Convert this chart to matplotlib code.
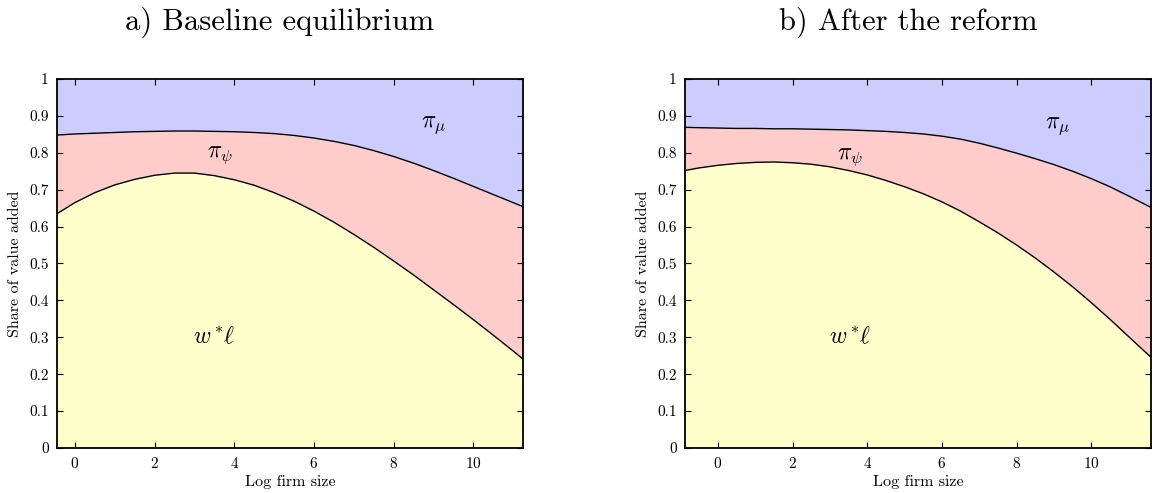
import matplotlib
matplotlib.use("Agg")
import matplotlib.pyplot as plt
import numpy as np

plt.rcParams['font.family'] = 'serif'
plt.rcParams['font.serif'] = ['cmr10']
plt.rcParams['mathtext.fontset'] = 'cm'
plt.rcParams['axes.formatter.use_mathtext'] = True

# a) baseline equilibrium: log firm size grid, wage share and wage+psi share
x_base = [-0.45, 0, 0.5, 1, 1.5, 2, 2.5, 3, 3.5, 4, 4.5, 5, 5.5, 6, 6.5, 7,
          7.5, 8, 8.5, 9, 9.5, 10, 10.5, 11, 11.25]
wage_base = [0.635, 0.665, 0.692, 0.713, 0.728, 0.739, 0.745, 0.745, 0.738,
             0.727, 0.712, 0.692, 0.669, 0.642, 0.612, 0.579, 0.544, 0.507,
             0.469, 0.429, 0.389, 0.348, 0.306, 0.263, 0.241]
psi_base = [0.848, 0.851, 0.853, 0.855, 0.857, 0.858, 0.859, 0.859, 0.858,
            0.857, 0.855, 0.852, 0.847, 0.840, 0.831, 0.820, 0.806, 0.790,
            0.772, 0.752, 0.731, 0.709, 0.687, 0.665, 0.654]

# b) after the reform
x_reform = [-0.88, -0.5, 0, 0.5, 1, 1.5, 2, 2.5, 3, 3.5, 4, 4.5, 5, 5.5, 6,
            6.5, 7, 7.5, 8, 8.5, 9, 9.5, 10, 10.5, 11, 11.6]
wage_reform = [0.752, 0.759, 0.766, 0.771, 0.774, 0.775, 0.773, 0.769, 0.762,
               0.752, 0.740, 0.725, 0.708, 0.689, 0.667, 0.642, 0.613, 0.583,
               0.550, 0.515, 0.477, 0.437, 0.394, 0.349, 0.302, 0.246]
psi_reform = [0.869, 0.868, 0.867, 0.866, 0.866, 0.865, 0.865, 0.864, 0.863,
              0.862, 0.860, 0.858, 0.855, 0.851, 0.845, 0.837, 0.826, 0.813,
              0.799, 0.784, 0.768, 0.750, 0.730, 0.708, 0.683, 0.652]

titles = ['a) Baseline equilibrium', 'b) After the reform']
yticks = [0, 0.1, 0.2, 0.3, 0.4, 0.5, 0.6, 0.7, 0.8, 0.9, 1]
ytick_labels = ['0', '0.1', '0.2', '0.3', '0.4', '0.5', '0.6', '0.7', '0.8', '0.9', '1']
xticks = [0, 2, 4, 6, 8, 10]

c_wage = '#ffffcc'
c_psi = '#ffcccc'
c_mu = '#ccccff'

fig = plt.figure(figsize=(11.52, 4.93), dpi=100)
ax1 = fig.add_axes([0.0495, 0.0913, 0.4045, 0.7485])
ax2 = fig.add_axes([0.5946, 0.0913, 0.4045, 0.7485])

panels = [(ax1, x_base, wage_base, psi_base),
          (ax2, x_reform, wage_reform, psi_reform)]

for ax, x, w, p in panels:
    x = np.asarray(x)
    w = np.asarray(w)
    p = np.asarray(p)
    ax.fill_between(x, 0, w, color=c_wage, lw=0)
    ax.fill_between(x, w, p, color=c_psi, lw=0)
    ax.fill_between(x, p, 1, color=c_mu, lw=0)
    ax.plot(x, w, color='black', lw=1)
    ax.plot(x, p, color='black', lw=1)
    ax.set_xlim(x[0], x[-1])
    ax.set_ylim(0, 1)
    ax.set_xticks(xticks)
    ax.set_yticks(yticks)
    ax.set_yticklabels(ytick_labels)
    ax.tick_params(direction='in', top=True, right=True, length=4,
                   width=0.8, labelsize=11, pad=6)
    for s in ax.spines.values():
        s.set_linewidth(1.3)
    ax.set_xlabel('Log firm size', fontsize=11.5, labelpad=3)
    ax.set_ylabel('Share of value added', fontsize=11.5, labelpad=5)

ax1.text(3.65, 0.795, r'$\pi_\psi$', fontsize=17, ha='center', va='center')
ax1.text(9.0, 0.875, r'$\pi_\mu$', fontsize=17, ha='center', va='center')
ax1.text(3.5, 0.30, r'$w^*\!\ell$', fontsize=17, ha='center', va='center')
ax2.text(3.55, 0.79, r'$\pi_\psi$', fontsize=17, ha='center', va='center')
ax2.text(9.1, 0.873, r'$\pi_\mu$', fontsize=17, ha='center', va='center')
ax2.text(3.55, 0.30, r'$w^*\!\ell$', fontsize=17, ha='center', va='center')

fig.text(280 / 1152, 1 - 22 / 493, titles[0], fontsize=22, ha='center', va='center')
fig.text(908 / 1152, 1 - 22 / 493, titles[1], fontsize=22, ha='center', va='center')

fig.savefig('out.png', dpi=100)
